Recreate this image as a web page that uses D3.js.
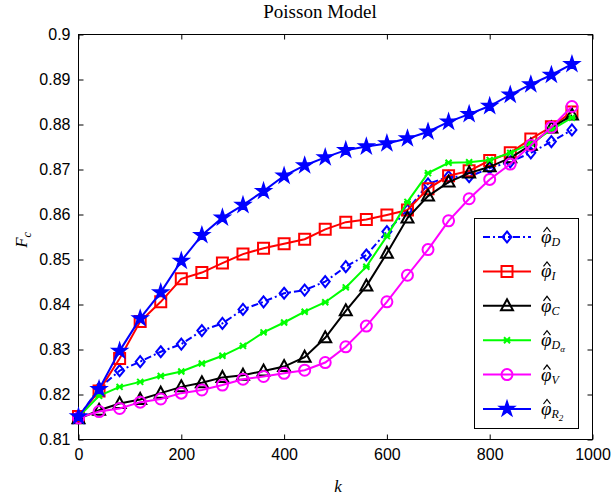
<!DOCTYPE html>
<html><head><meta charset="utf-8">
<script src="https://cdn.jsdelivr.net/npm/d3@7"></script>
<style>body{margin:0;background:#fff;} svg{display:block;}</style>
</head><body>
<script>
const kValues = [0,40,80,120,160,200,240,280,320,360,400,440,480,520,560,600,640,680,720,760,800,840,880,920,960];
const phiD  = [0.8150,0.8214,0.8253,0.8273,0.8295,0.8312,0.8342,0.8358,0.8389,0.8406,0.8425,0.8432,0.8451,0.8484,0.8510,0.8562,0.8610,0.8668,0.8684,0.8684,0.8703,0.8717,0.8737,0.8762,0.8788];
const phiI  = [0.8151,0.8208,0.8280,0.8362,0.8406,0.8457,0.8471,0.8492,0.8512,0.8525,0.8535,0.8545,0.8567,0.8583,0.8589,0.8599,0.8610,0.8657,0.8686,0.8697,0.8720,0.8737,0.8768,0.8795,0.8828];
const phiC  = [0.8146,0.8165,0.8180,0.8189,0.8203,0.8217,0.8226,0.8238,0.8243,0.8252,0.8262,0.8283,0.8326,0.8386,0.8441,0.8514,0.8592,0.8641,0.8672,0.8692,0.8706,0.8726,0.8754,0.8792,0.8821];
const phiDa = [0.8150,0.8197,0.8217,0.8228,0.8241,0.8251,0.8269,0.8286,0.8308,0.8338,0.8360,0.8384,0.8405,0.8438,0.8484,0.8552,0.8628,0.8692,0.8715,0.8716,0.8721,0.8737,0.8758,0.8788,0.8815];
const phiV  = [0.8148,0.8162,0.8169,0.8183,0.8190,0.8203,0.8210,0.8221,0.8234,0.8240,0.8247,0.8254,0.8271,0.8306,0.8352,0.8406,0.8465,0.8522,0.8586,0.8635,0.8678,0.8712,0.8754,0.8794,0.8840];
const phiR2 = [0.8151,0.8212,0.8297,0.8369,0.8427,0.8497,0.8554,0.8593,0.8621,0.8652,0.8686,0.8709,0.8727,0.8743,0.8751,0.8758,0.8769,0.8784,0.8806,0.8823,0.8841,0.8866,0.8889,0.8910,0.8934];
const xTicks = [0,200,400,600,800,1000];
const yTicks = [0.81,0.82,0.83,0.84,0.85,0.86,0.87,0.88,0.89,0.9];
const titleText = "Poisson Model";
const xLabel = "k";
const seriesNames = [["D"],["I"],["C"],["D","α"],["V"],["R","2"]];

const series = [
  {vals: phiD,  color: "#0000ff", marker: "diamond",  dash: "7,3,2,3"},
  {vals: phiI,  color: "#ff0000", marker: "square",   dash: null},
  {vals: phiC,  color: "#000000", marker: "triangle", dash: null},
  {vals: phiDa, color: "#00ff00", marker: "asterisk", dash: null},
  {vals: phiV,  color: "#ff00ff", marker: "circle",   dash: null},
  {vals: phiR2, color: "#0000ff", marker: "star",     dash: null}
];

const W = 615, H = 500;
const m = {left: 78.5, right: 592.5, top: 34.5, bottom: 439.5};
const svg = d3.select("body").append("svg").attr("width", W).attr("height", H);
const x = d3.scaleLinear().domain([0,1000]).range([m.left, m.right]);
const y = d3.scaleLinear().domain([0.81,0.9]).range([m.bottom, m.top]);

svg.append("rect").attr("x", m.left).attr("y", m.top).attr("width", m.right-m.left).attr("height", m.bottom-m.top)
  .attr("fill","#fff").attr("stroke","#000").attr("stroke-width",1);

const tickFont = "'Liberation Sans', Arial, sans-serif";
const gx = svg.append("g").attr("transform", `translate(0,${m.bottom})`)
  .call(d3.axisBottom(x).tickValues(xTicks).tickSize(-5).tickPadding(9).tickFormat(d3.format("d")));
const gxt = svg.append("g").attr("transform", `translate(0,${m.top})`)
  .call(d3.axisTop(x).tickValues(xTicks).tickSize(-5).tickFormat(""));
const gy = svg.append("g").attr("transform", `translate(${m.left},0)`)
  .call(d3.axisLeft(y).tickValues(yTicks).tickSize(-5).tickPadding(8).tickFormat(d => d3.format("")(+d.toFixed(2))));
const gyr = svg.append("g").attr("transform", `translate(${m.right},0)`)
  .call(d3.axisRight(y).tickValues(yTicks).tickSize(-5).tickFormat(""));
[gx,gxt,gy,gyr].forEach(g => {
  g.select(".domain").remove();
  g.selectAll("line").attr("stroke","#000");
  g.selectAll("text").attr("fill","#000").style("font-family", tickFont).style("font-size","16px");
});

function markerPath(type) {
  const p = d3.path();
  switch(type) {
    case "diamond": p.moveTo(0,-5.5); p.lineTo(4.5,0); p.lineTo(0,5.5); p.lineTo(-4.5,0); p.closePath(); break;
    case "square": p.rect(-5.5,-5.5,11,11); break;
    case "triangle": p.moveTo(0,-6.5); p.lineTo(6,4.5); p.lineTo(-6,4.5); p.closePath(); break;
    case "circle": p.arc(0,0,5.5,0,2*Math.PI); break;
    case "asterisk":
      p.moveTo(-3,-3); p.lineTo(3,3); p.moveTo(-3,3); p.lineTo(3,-3); p.moveTo(-3.5,0); p.lineTo(3.5,0); break;
    case "star": return d3.symbol(d3.symbolStar, 70)();
  }
  return p.toString();
}
function drawMarker(g, type, color) {
  const path = g.append("path").attr("d", markerPath(type)).attr("stroke", color).attr("stroke-width", 2);
  if (type === "star") path.attr("fill", color).attr("stroke-width",1.5).attr("stroke-linejoin","miter");
  else path.attr("fill","none");
}

const line = d3.line().x((d,i) => x(kValues[i])).y(d => y(d));
const plot = svg.append("g");
series.forEach(s => {
  plot.append("path").datum(s.vals).attr("d", line).attr("fill","none")
    .attr("stroke", s.color).attr("stroke-width", 2).attr("stroke-dasharray", s.dash);
  s.vals.forEach((v,i) => {
    const g = plot.append("g").attr("transform", `translate(${x(kValues[i])},${y(v)})`);
    drawMarker(g, s.marker, s.color);
  });
});

const serif = "'Liberation Serif', 'Times New Roman', serif";
svg.append("text").attr("x", 320).attr("y", 17.5).attr("text-anchor","middle")
  .style("font-family", serif).style("font-size","19px").text(titleText);
svg.append("text").attr("x", 338).attr("y", 492).attr("text-anchor","middle")
  .style("font-family", serif).style("font-size","17px").style("font-style","italic").text(xLabel);
const yl = svg.append("text").attr("transform","translate(27,240) rotate(-90)").attr("text-anchor","middle")
  .style("font-family", serif).style("font-size","17px").style("font-style","italic");
yl.append("tspan").text("F");
yl.append("tspan").attr("dy",4).style("font-size","12px").text("c");

const lg = svg.append("g");
lg.append("rect").attr("x",474.5).attr("y",218.5).attr("width",104).attr("height",210)
  .attr("fill","#fff").attr("stroke","#000").attr("stroke-width",1);
series.forEach((s,i) => {
  const yy = 237 + i*34.4;
  lg.append("line").attr("x1",483).attr("x2",531).attr("y1",yy).attr("y2",yy)
    .attr("stroke", s.color).attr("stroke-width",2).attr("stroke-dasharray", s.dash);
  const g = lg.append("g").attr("transform",`translate(507,${yy})`);
  drawMarker(g, s.marker, s.color);
  const t = lg.append("text").attr("x",541).attr("y",yy+6)
    .style("font-family", serif).style("font-size","19px").style("font-style","italic");
  t.append("tspan").text("\u03C6");
  const nm = seriesNames[i];
  t.append("tspan").attr("dy",3).style("font-size","12px").text(nm[0]);
  if (nm[1]) t.append("tspan").attr("dy",3).style("font-size","9px").text(nm[1]);
  // circumflex accent over phi
  const h = d3.path();
  h.moveTo(543.5, yy-5); h.lineTo(547, yy-9.5); h.lineTo(550.5, yy-5);
  lg.append("path").attr("d", h.toString()).attr("fill","none").attr("stroke","#000").attr("stroke-width",1.2);
});
</script>
</body></html>
